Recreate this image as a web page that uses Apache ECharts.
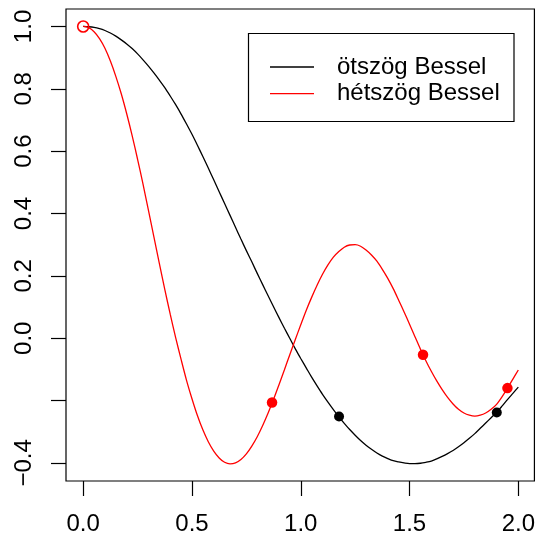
<!DOCTYPE html>
<html>
<head>
<meta charset="utf-8">
<style>
  html, body { margin: 0; padding: 0; background: #fff; }
  #chart { width: 538px; height: 537px; }
</style>
<script src="https://cdn.jsdelivr.net/npm/echarts@6/dist/echarts.min.js"></script>
</head>
<body>
<div id="chart"></div>
<script>
// Sample positions along the x axis (step 0.025)
const xValues = [
  0.000, 0.025, 0.050, 0.075, 0.100, 0.125, 0.150, 0.175, 0.200, 0.225,
  0.250, 0.275, 0.300, 0.325, 0.350, 0.375, 0.400, 0.425, 0.450, 0.475,
  0.500, 0.525, 0.550, 0.575, 0.600, 0.625, 0.650, 0.675, 0.700, 0.725,
  0.750, 0.775, 0.800, 0.825, 0.850, 0.875, 0.900, 0.925, 0.950, 0.975,
  1.000, 1.025, 1.050, 1.075, 1.100, 1.125, 1.150, 1.175, 1.200, 1.225,
  1.250, 1.275, 1.300, 1.325, 1.350, 1.375, 1.400, 1.425, 1.450, 1.475,
  1.500, 1.525, 1.550, 1.575, 1.600, 1.625, 1.650, 1.675, 1.700, 1.725,
  1.750, 1.775, 1.800, 1.825, 1.850, 1.875, 1.900, 1.925, 1.950, 1.975,
  2.000
];

// Pentagon Bessel curve
const pentagonBessel = [
  1.000, 0.999, 0.997, 0.993, 0.987, 0.979, 0.969, 0.957, 0.944, 0.929,
  0.912, 0.893, 0.873, 0.851, 0.828, 0.804, 0.777, 0.749, 0.719, 0.687,
  0.654, 0.619, 0.583, 0.546, 0.508, 0.470, 0.432, 0.394, 0.356, 0.318,
  0.281, 0.245, 0.208, 0.172, 0.136, 0.101, 0.066, 0.032, -0.001, -0.034,
  -0.065, -0.095, -0.125, -0.153, -0.180, -0.205, -0.229, -0.252, -0.273, -0.293,
  -0.311, -0.328, -0.343, -0.356, -0.368, -0.378, -0.386, -0.393, -0.397, -0.400,
  -0.402, -0.402, -0.401, -0.398, -0.394, -0.387, -0.379, -0.370, -0.360, -0.348,
  -0.335, -0.321, -0.306, -0.289, -0.272, -0.255, -0.238, -0.218, -0.197, -0.177,
  -0.157
];

// Heptagon Bessel curve
const heptagonBessel = [
  1.000, 0.996, 0.983, 0.961, 0.930, 0.889, 0.840, 0.784, 0.720, 0.650,
  0.574, 0.494, 0.410, 0.325, 0.240, 0.157, 0.077, 0.002, -0.068, -0.135,
  -0.194, -0.248, -0.294, -0.332, -0.362, -0.384, -0.398, -0.403, -0.400, -0.389,
  -0.371, -0.346, -0.316, -0.280, -0.240, -0.196, -0.149, -0.101, -0.052, -0.004,
  0.043, 0.089, 0.131, 0.170, 0.205, 0.235, 0.260, 0.278, 0.292, 0.299,
  0.300, 0.295, 0.283, 0.267, 0.247, 0.221, 0.192, 0.159, 0.122, 0.084,
  0.045, 0.005, -0.035, -0.072, -0.106, -0.137, -0.165, -0.190, -0.211, -0.228,
  -0.240, -0.247, -0.250, -0.247, -0.240, -0.228, -0.212, -0.188, -0.160, -0.131,
  -0.102
];

// Highlighted points on each curve
const pentagonPoints = [[1.176, -0.251], [1.901, -0.238]];
const heptagonPoints = [[0.868, -0.206], [1.562, -0.053], [1.950, -0.160]];
const startPoint = [[0, 1]];

// Axis ticks and labels
const xTicks = [0, 0.5, 1.0, 1.5, 2.0];
const yTicks = [-0.4, -0.2, 0.0, 0.2, 0.4, 0.6, 0.8, 1.0];
const yLabelValues = [-0.4, 0.0, 0.2, 0.4, 0.6, 0.8, 1.0];

const seriesNames = ['ötszög Bessel', 'hétszög Bessel'];

const FONT = "'Liberation Sans', Arial, Helvetica, sans-serif";
const fmt = v => (v < 0 ? '\u2212' : '') + Math.abs(v).toFixed(1);

const chart = echarts.init(document.getElementById('chart'), null, { renderer: 'canvas' });

chart.setOption({
  animation: false,
  backgroundColor: '#ffffff',
  grid: {
    left: 66, right: 2, top: 9, bottom: 56,
    show: true, borderColor: '#000', borderWidth: 1.2, backgroundColor: 'transparent'
  },
  xAxis: {
    type: 'value',
    min: -0.079, max: 2.074,
    axisLine: { show: false, onZero: false },
    splitLine: { show: false },
    axisTick: {
      show: true, inside: false, length: 15,
      customValues: xTicks,
      lineStyle: { color: '#000', width: 1.2 }
    },
    axisLabel: {
      customValues: xTicks,
      margin: 31,
      fontSize: 24, fontFamily: FONT, color: '#000',
      formatter: v => fmt(v),
      hideOverlap: false
    }
  },
  yAxis: {
    type: 'value',
    min: -0.458, max: 1.056,
    axisLine: { show: false, onZero: false },
    splitLine: { show: false },
    axisTick: {
      show: true, inside: false, length: 15,
      customValues: yTicks,
      lineStyle: { color: '#000', width: 1.2 }
    },
    axisLabel: {
      customValues: yLabelValues,
      rotate: 90,
      margin: 30,
      fontSize: 24, fontFamily: FONT, color: '#000',
      formatter: v => fmt(v),
      hideOverlap: false
    }
  },
  legend: {
    data: seriesNames,
    orient: 'vertical',
    left: 270, top: 55,
    padding: 0,
    itemGap: 2.6,
    itemWidth: 44, itemHeight: 1.4,
    icon: 'rect',
    z: 10,
    textStyle: { fontSize: 24, fontFamily: FONT, color: '#000', padding: [0, 0, 0, 18] }
  },
  graphic: [{
    type: 'rect',
    z: 5,
    shape: { x: 248.5, y: 33.5, width: 265.5, height: 88 },
    style: { fill: '#fff', stroke: '#000', lineWidth: 1.2 }
  }],
  series: [
    {
      name: seriesNames[0],
      type: 'line',
      data: xValues.map((x, i) => [x, pentagonBessel[i]]),
      smooth: 0.3,
      showSymbol: false,
      color: '#000000',
      lineStyle: { color: '#000000', width: 1.3 },
      z: 2
    },
    {
      name: seriesNames[1],
      type: 'line',
      data: xValues.map((x, i) => [x, heptagonBessel[i]]),
      smooth: 0.3,
      showSymbol: false,
      color: '#ff0000',
      lineStyle: { color: '#ff0000', width: 1.3 },
      z: 2
    },
    {
      name: 'pentagonPoints',
      type: 'scatter',
      data: pentagonPoints,
      symbol: 'circle',
      symbolSize: 10,
      itemStyle: { color: '#000000', opacity: 1 },
      z: 3
    },
    {
      name: 'heptagonPoints',
      type: 'scatter',
      data: heptagonPoints,
      symbol: 'circle',
      symbolSize: 10.5,
      itemStyle: { color: '#ff0000', opacity: 1 },
      z: 3
    },
    {
      name: 'startPoint',
      type: 'scatter',
      data: startPoint,
      symbol: 'circle',
      symbolSize: 11,
      itemStyle: { color: 'transparent', borderColor: '#ff0000', borderWidth: 1.6, opacity: 1 },
      z: 4
    }
  ]
});
</script>
</body>
</html>
